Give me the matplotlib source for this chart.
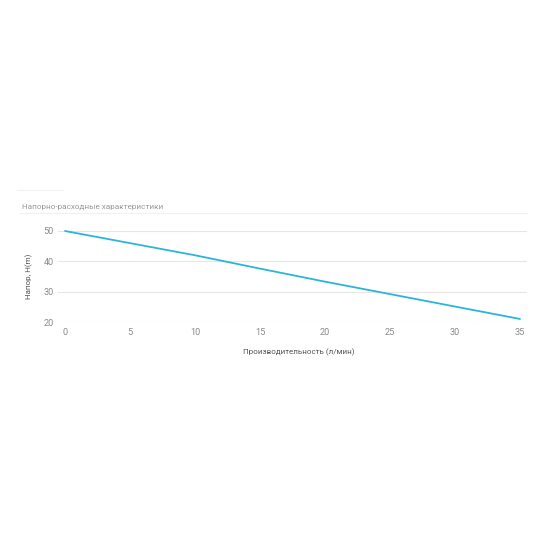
import matplotlib
matplotlib.use("Agg")
import matplotlib.pyplot as plt
from matplotlib.lines import Line2D

flow = [0, 5, 10, 15, 20, 25, 30, 35]
head = [50, 46, 42, 37.6, 33.3, 29.2, 25.1, 21]
xticks = [0, 5, 10, 15, 20, 25, 30, 35]
yticks = [20, 30, 40, 50]
title = "Напорно-расходные характеристики"
xlabel = "Производительность (л/мин)"
ylabel = "Напор, H(m)"

plt.rcParams['font.family'] = ['Roboto', 'DejaVu Sans']

fig = plt.figure(figsize=(5.5, 5.5), dpi=100)
ax = fig.add_axes([58/550, 1-322/550, (527-58)/550, (322-231)/550])
ax.plot(flow, head, color='#2bb5d9', lw=1.3, clip_on=False, solid_capstyle='round')
ax.set_xlim(-0.54, 35.54)
ax.set_ylim(20, 50)
ax.set_xticks(xticks)
ax.set_yticks(yticks)
for s in ax.spines.values():
    s.set_visible(False)
ax.grid(axis='y', color='#e6e6e6', lw=0.8)
ax.set_axisbelow(True)
ax.tick_params(length=0, labelsize=6.6, colors='#8a8a8a', pad=4)
ax.tick_params(axis='y', pad=3)

fig.text(299/550, 1-352/550, xlabel, fontsize=5.8, color='#555555', ha='center', va='center')
fig.text(29/550, 1-276/550, ylabel, fontsize=5.8, color='#555555', ha='center', va='center', rotation=90)
fig.text(22/550, 1-207/550, title, fontsize=5.9, color='#999999', va='center', ha='left')
fig.add_artist(Line2D([20/550, 527/550], [1-213/550, 1-213/550], color='#f0f0f0', lw=0.8))
fig.add_artist(Line2D([17/550, 63/550], [1-190/550, 1-190/550], color='#f2f2f2', lw=0.8))

fig.savefig("out.png", dpi=100, facecolor='white')
